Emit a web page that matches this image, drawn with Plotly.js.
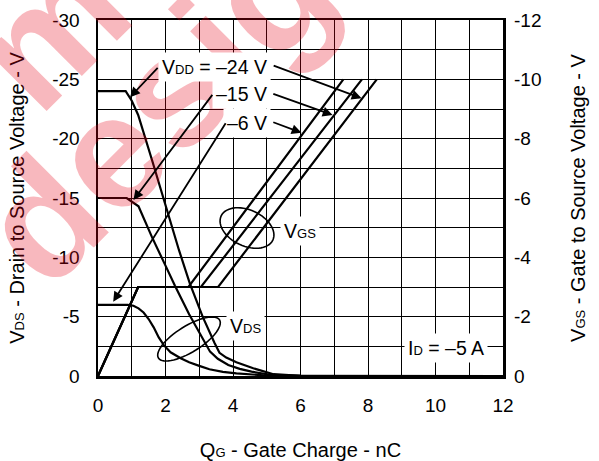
<!DOCTYPE html>
<html><head><meta charset="utf-8">
<script src="https://cdn.plot.ly/plotly-3.0.1.min.js"></script>
<style>html,body{margin:0;padding:0;background:#fff}#chart{width:599px;height:461px}</style>
</head><body><div id="chart"></div>
<script>
// ---- data ----
const vdsQ24 = [0, 0.82, 1.0, 1.19, 1.6, 2.0, 2.4, 2.72, 3.1, 3.45, 3.6, 3.8, 4.1, 4.6, 5.2, 6.0, 12];
const vdsV24 = [-24, -24, -23.2, -22, -18.2, -14.3, -10.6, -7.8, -5.0, -2.8, -1.95, -1.55, -1.15, -0.65, -0.15, -0.02, 0];
const vdsQ15 = [0, 0.85, 1.2, 1.6, 2.0, 2.28, 2.7, 3.17, 3.32, 3.55, 3.86, 4.2, 4.55, 5.15, 6.0, 12];
const vdsV15 = [-15, -15, -14.3, -11.7, -9.3, -7.6, -5.2, -2.8, -2.05, -1.45, -0.93, -0.6, -0.37, -0.08, -0.01, 0];
const vdsQ6 = [0, 0.88, 1.05, 1.2, 1.35, 1.5, 1.65, 1.8, 1.95, 2.15, 2.45, 2.7, 3.0, 3.3, 3.7, 4.1, 4.9, 6.0, 12];
const vdsV6 = [-6, -6, -5.92, -5.7, -5.35, -4.8, -4.1, -3.25, -2.6, -2.0, -1.5, -1.15, -0.85, -0.57, -0.35, -0.22, -0.06, -0.01, 0];
const vgsV = [0, -3, -3, -10];
const vgsQ6 = [0, 1.19, 2.68, 7.27];
const vgsQ15 = [0, 1.19, 3.05, 7.82];
const vgsQ24 = [0, 1.19, 3.56, 8.26];
const xTickVals = [0, 2, 4, 6, 8, 10, 12];
const xTickText = ['0', '2', '4', '6', '8', '10', '12'];
const yTickVals = [0, -5, -10, -15, -20, -25, -30];
const yTickText = ['0', '-5', '-10', '-15', '-20', '-25', '-30'];
const y2TickVals = [0, -2, -4, -6, -8, -10, -12];
const y2TickText = ['0', '-2', '-4', '-6', '-8', '-10', '-12'];

// ---- layout helpers ----
const FONT = 'Liberation Sans, Arial, sans-serif';
const L = 98, T = 20, W = 405, H = 356;
const sub = (s, px) => "<span style='font-size:" + px + "px'>" + s + "</span>";
function ellipsePath(cx, cy, a, b, deg) {
  const th = deg * Math.PI / 180, pts = [];
  for (let i = 0; i <= 60; i++) {
    const t = 2 * Math.PI * i / 60;
    const x = cx + a * Math.cos(t) * Math.cos(th) - b * Math.sin(t) * Math.sin(th);
    const y = cy + a * Math.cos(t) * Math.sin(th) + b * Math.sin(t) * Math.cos(th);
    pts.push(((x - L) / W).toFixed(4) + ',' + ((T + H - y) / H).toFixed(4));
  }
  return 'M' + pts.join('L') + 'Z';
}
const lineStyle = {color: '#000', width: 2.2};
const traces = [
  {x: vdsQ24, y: vdsV24, yaxis: 'y'}, {x: vdsQ15, y: vdsV15, yaxis: 'y'}, {x: vdsQ6, y: vdsV6, yaxis: 'y'},
  {x: vgsQ6, y: vgsV, yaxis: 'y2'}, {x: vgsQ15, y: vgsV, yaxis: 'y2'}, {x: vgsQ24, y: vgsV, yaxis: 'y2'}
].map(t => Object.assign(t, {type: 'scatter', mode: 'lines', line: lineStyle, showlegend: false, hoverinfo: 'skip', cliponaxis: false}));

function label(text, x, y, xanchor) {
  return {text: text, x: x, y: y, xref: 'x', yref: 'y', xanchor: xanchor, yanchor: 'middle', showarrow: false,
          bgcolor: '#fff', borderpad: 3, font: {family: FONT, size: 19.5, color: '#000'}};
}
function arrow(x, y, ax, ay) {
  return {text: '', x: x, y: y, ax: ax, ay: ay, xref: 'x', yref: 'y', axref: 'x', ayref: 'y', showarrow: true,
          arrowhead: 2, arrowsize: 1.1, arrowwidth: 1.8, arrowcolor: '#000', standoff: 0, startstandoff: 0};
}
const wm = {color: 'rgba(230,0,20,0.28)', size: 160, family: FONT, weight: 'bold'};
function water(text, cx, cy) {
  return {text: text, xref: 'paper', yref: 'paper', x: (cx - L) / W, y: (T + H - cy) / H, xanchor: 'center', yanchor: 'middle',
          showarrow: false, textangle: -45, font: wm};
}
const annotations = [
  water('design', 190, 72),
  water('m', 50, 30),
  label('V' + sub('DD', 13) + ' = –24 V', 5.13, -26.0, 'right'),
  label('–15 V', 5.13, -23.76, 'right'),
  label('–6 V', 5.13, -21.36, 'right'),
  label('V' + sub('GS', 13), 5.38, -12.2, 'left'),
  label('V' + sub('DS', 13), 3.79, -4.25, 'left'),
  label('I' + sub('D', 13) + ' = –5 A', 9.06, -2.4, 'left'),
  arrow(0.95, -23.5, 1.81, -26.1),
  arrow(7.81, -23.4, 5.16, -26.2),
  arrow(1.05, -14.83, 3.42, -23.82),
  arrow(6.95, -21.99, 5.15, -23.82),
  arrow(0.45, -6.26, 3.81, -21.43),
  arrow(6.03, -20.5, 5.15, -21.43)
];
const shapes = [
  {type: 'path', xref: 'paper', yref: 'paper', path: ellipsePath(247, 228, 28.5, 18, 25), line: {color: '#000', width: 1.6}},
  {type: 'path', xref: 'paper', yref: 'paper', path: ellipsePath(189, 339, 36, 13, -32), line: {color: '#000', width: 1.6}}
];
const tickFont = {family: FONT, size: 19, color: '#000'};
const titleFont = {family: FONT, size: 20, color: '#000'};
const layout = {
  width: 599, height: 461, margin: {l: L, r: 599 - L - W, t: T, b: 461 - T - H},
  paper_bgcolor: '#fff', plot_bgcolor: '#fff', showlegend: false,
  font: {family: FONT, color: '#000'},
  xaxis: {range: [0, 12], tickmode: 'array', tickvals: xTickVals, ticktext: xTickText, tickfont: tickFont,
          showgrid: true, gridcolor: '#000', gridwidth: 1, zeroline: false, ticks: '', ticklabelstandoff: 11,
          minor: {dtick: 1, showgrid: true, gridcolor: '#000', gridwidth: 1},
          showline: true, mirror: true, linecolor: '#000', linewidth: 2.5,
          title: {text: 'Q' + sub('G', 13) + ' - Gate Charge - nC', font: titleFont, standoff: 28}},
  yaxis: {range: [0, -30], tickmode: 'array', tickvals: yTickVals, ticktext: yTickText, tickfont: tickFont,
          showgrid: true, gridcolor: '#000', gridwidth: 1, zeroline: false, ticks: '', ticklabelstandoff: 12,
          minor: {dtick: 2.5, showgrid: true, gridcolor: '#000', gridwidth: 1},
          showline: true, mirror: true, linecolor: '#000', linewidth: 2.5,
          title: {text: 'V' + sub('DS', 13) + ' - Drain to Source Voltage - V', font: titleFont, standoff: 22}},
  yaxis2: {range: [0, -12], overlaying: 'y', side: 'right', tickmode: 'array', tickvals: y2TickVals, ticktext: y2TickText,
           tickfont: tickFont, showgrid: false, zeroline: false, ticks: '', ticklabelstandoff: 10, showline: false,
           title: {text: 'V' + sub('GS', 13) + ' - Gate to Source Voltage - V', font: titleFont, standoff: 30}},
  annotations: annotations, shapes: shapes
};
Plotly.newPlot('chart', traces, layout, {staticPlot: true, displayModeBar: false});
</script></body></html>
